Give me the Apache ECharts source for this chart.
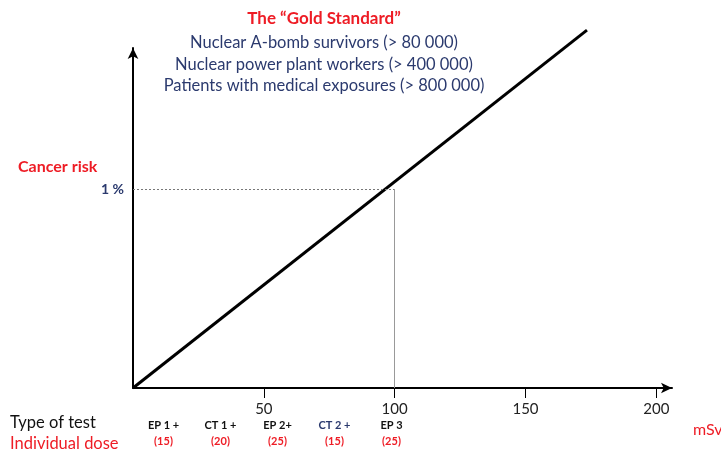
<!DOCTYPE html>
<html>
<head>
<meta charset="utf-8">
<script src="https://cdn.jsdelivr.net/npm/echarts@6/dist/echarts.min.js"></script>
<style>
  html, body { margin: 0; padding: 0; background: #fff; }
  #main { width: 721px; height: 450px; }
</style>
</head>
<body>
<div id="main"></div>
<script>
// linear no-threshold line, dose (mSv) vs cancer risk (%)
const doseLine = [[0, 0], [173.5, 1.8]]
const xTicks = [50, 100, 150, 200]
const yTicks = [1]
const refDose = 100
const refRisk = 1

const goldTitle = 'The \u201cGold Standard\u201d'
const goldLines = [
  'Nuclear A-bomb survivors (> 80 000)',
  'Nuclear power plant workers (> 400 000)',
  'Patients with medical exposures (> 800 000)'
]

const tests = ['EP 1 +', 'CT 1 +', 'EP 2+', 'CT 2 +', 'EP 3']
const testDoses = [15, 20, 25, 15, 25]

const RED = '#ee1c25'
const NAVY = '#2b3a6e'
const FONT = 'Lato, "Open Sans", sans-serif'

const myChart = echarts.init(document.getElementById('main'))

const option = {
  backgroundColor: '#fff',
  animation: false,
  title: [
    {
      text: goldTitle,
      left: 324, top: 10, textAlign: 'center', padding: 0,
      textStyle: { color: RED, fontSize: 17, fontWeight: 'bold', fontFamily: FONT }
    },
    {
      text: goldLines.join('\n'),
      left: 324, top: 32, textAlign: 'center', padding: 0,
      textStyle: { color: NAVY, fontSize: 16.5, fontWeight: 'normal', fontFamily: FONT, lineHeight: 21.5 }
    },
    {
      text: 'Cancer risk',
      left: 18, top: 159, padding: 0,
      textStyle: { color: RED, fontSize: 16, fontWeight: 'bold', fontFamily: FONT }
    },
    {
      text: 'Type of test',
      left: 10, top: 414, padding: 0,
      textStyle: { color: '#111', fontSize: 16.5, fontWeight: 'normal', fontFamily: FONT }
    },
    {
      text: 'Individual dose',
      left: 10, top: 435, padding: 0,
      textStyle: { color: RED, fontSize: 16.5, fontWeight: 'normal', fontFamily: FONT }
    },
    {
      text: 'mSv',
      left: 693, top: 422, padding: 0,
      textStyle: { color: RED, fontSize: 16, fontWeight: 'normal', fontFamily: FONT }
    }
  ],
  grid: [
    { left: 133, right: 49, top: 48, height: 340 },
    { left: 135, width: 285, top: 400, height: 10 }
  ],
  xAxis: [
    {
      type: 'value',
      gridIndex: 0,
      min: 0,
      max: 206,
      axisLine: {
        show: true,
        symbol: ['none', 'arrow'],
        symbolSize: [8, 11],
        lineStyle: { color: '#000', width: 2 }
      },
      axisTick: {
        show: true,
        length: 10,
        customValues: xTicks,
        lineStyle: { color: '#000', width: 1 }
      },
      axisLabel: {
        customValues: xTicks,
        margin: 14,
        color: '#222',
        fontSize: 15,
        fontFamily: FONT
      },
      splitLine: { show: false }
    },
    {
      type: 'category',
      gridIndex: 1,
      data: tests,
      axisLine: { show: false },
      axisTick: { show: false },
      axisLabel: {
        margin: 7,
        interval: 0,
        fontFamily: FONT,
        formatter: function(v, i) {
          const nameStyle = v === 'CT 2 +' ? 'blue' : 'name'
          return '{' + nameStyle + '|' + v + '}\n{dose|(' + testDoses[i] + ')}'
        },
        rich: {
          name: { color: '#111', fontSize: 11, fontWeight: 'bold', fontFamily: FONT, lineHeight: 16 },
          blue: { color: NAVY, fontSize: 11, fontWeight: 'bold', fontFamily: FONT, lineHeight: 16 },
          dose: { color: RED, fontSize: 11, fontWeight: 'bold', fontFamily: FONT, lineHeight: 16 }
        }
      }
    }
  ],
  yAxis: [
    {
      type: 'value',
      gridIndex: 0,
      min: 0,
      max: 1.71,
      axisLine: {
        show: true,
        symbol: ['none', 'arrow'],
        symbolSize: [8, 11],
        lineStyle: { color: '#000', width: 2 }
      },
      axisTick: { show: false },
      axisLabel: {
        customValues: yTicks,
        margin: 9,
        color: NAVY,
        fontSize: 14,
        fontWeight: 'bold',
        fontFamily: FONT,
        formatter: '{value} %'
      },
      splitLine: { show: false }
    },
    { type: 'value', gridIndex: 1, show: false }
  ],
  series: [
    {
      type: 'line',
      xAxisIndex: 0,
      yAxisIndex: 0,
      data: doseLine,
      symbol: 'none',
      clip: false,
      lineStyle: { color: '#000', width: 3 },
      markLine: {
        silent: true,
        symbol: 'none',
        label: { show: false },
        data: [
          [
            { coord: [0, refRisk], lineStyle: { color: '#777', width: 1, type: [2, 2] } },
            { coord: [refDose, refRisk] }
          ],
          [
            { coord: [refDose, refRisk], lineStyle: { color: '#999', width: 1, type: 'solid' } },
            { coord: [refDose, 0] }
          ]
        ]
      }
    }
  ]
}
myChart.setOption(option)
</script>
</body>
</html>
